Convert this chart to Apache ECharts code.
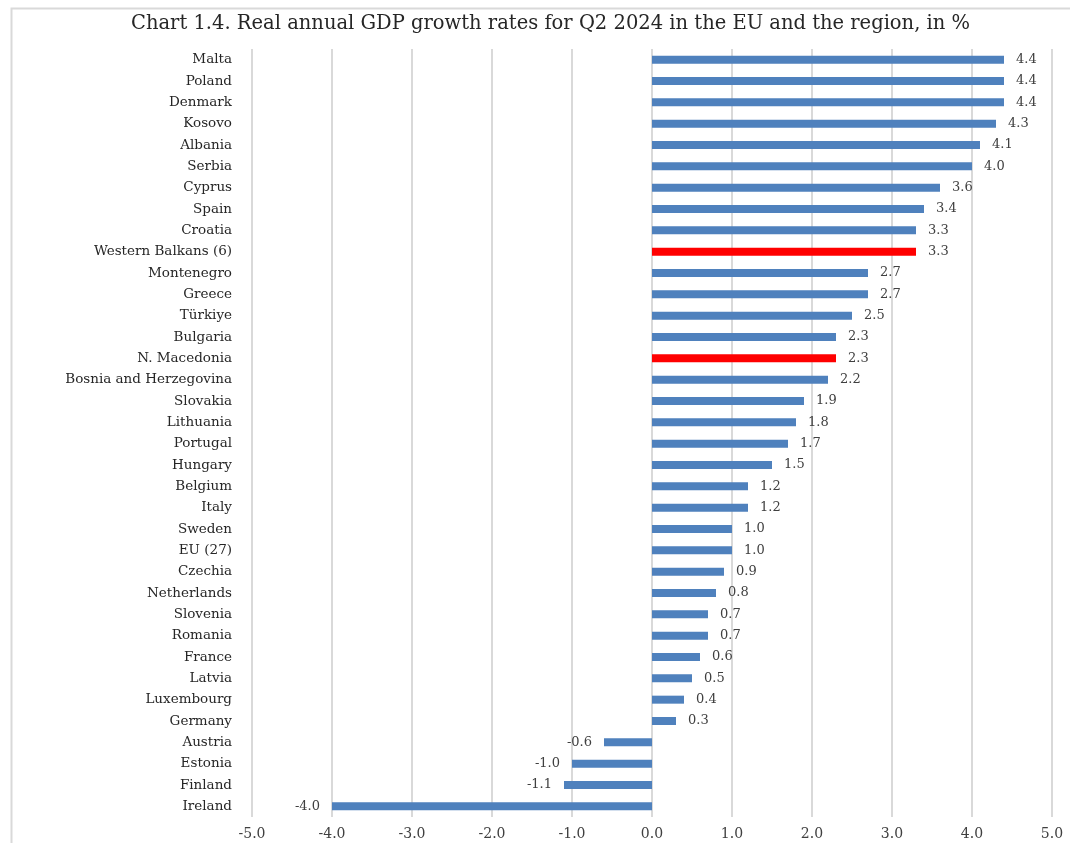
<!DOCTYPE html>
<html>
<head>
<meta charset="utf-8">
<script src="https://cdn.jsdelivr.net/npm/echarts@6/dist/echarts.min.js"></script>
<style>
  html, body { margin: 0; padding: 0; background: #fff; }
  #chart { width: 1070px; height: 843px; }
</style>
</head>
<body>
<div id="chart"></div>
<script>
// top to bottom, as in the original
const countries = [
  'Malta', 'Poland', 'Denmark', 'Kosovo', 'Albania', 'Serbia', 'Cyprus', 'Spain',
  'Croatia', 'Western Balkans (6)', 'Montenegro', 'Greece', 'Türkiye', 'Bulgaria',
  'N. Macedonia', 'Bosnia and Herzegovina', 'Slovakia', 'Lithuania', 'Portugal',
  'Hungary', 'Belgium', 'Italy', 'Sweden', 'EU (27)', 'Czechia', 'Netherlands',
  'Slovenia', 'Romania', 'France', 'Latvia', 'Luxembourg', 'Germany', 'Austria',
  'Estonia', 'Finland', 'Ireland'
]
const growth = [
  4.4, 4.4, 4.4, 4.3, 4.1, 4.0, 3.6, 3.4,
  3.3, 3.3, 2.7, 2.7, 2.5, 2.3,
  2.3, 2.2, 1.9, 1.8, 1.7,
  1.5, 1.2, 1.2, 1.0, 1.0, 0.9, 0.8,
  0.7, 0.7, 0.6, 0.5, 0.4, 0.3, -0.6,
  -1.0, -1.1, -4.0
]
const highlighted = ['Western Balkans (6)', 'N. Macedonia']

const font = "'DejaVu Serif', 'Liberation Serif', serif"
const chart = echarts.init(document.getElementById('chart'))

chart.setOption({
  animation: false,
  backgroundColor: '#fff',
  title: {
    text: 'Chart 1.4. Real annual GDP growth rates for Q2 2024 in the EU and the region, in %',
    left: 126,
    top: 9,
    textStyle: { fontFamily: font, fontSize: 19.5, fontWeight: 'normal', color: '#262626' }
  },
  graphic: [{
    type: 'rect',
    left: 9,
    top: 6,
    shape: { width: 1100, height: 900 },
    style: { fill: 'none', stroke: '#d9d9d9', lineWidth: 2 },
    silent: true
  }],
  grid: { left: 252, right: 18, top: 49, bottom: 26 },
  xAxis: {
    type: 'value',
    min: -5,
    max: 5,
    interval: 1,
    axisLine: { show: false },
    axisTick: { show: false },
    splitLine: { lineStyle: { color: '#d9d9d9', width: 2 } },
    axisLabel: {
      fontFamily: font,
      fontSize: 14,
      color: '#404040',
      margin: 10,
      formatter: (v) => v.toFixed(1)
    }
  },
  yAxis: {
    type: 'category',
    inverse: true,
    data: countries,
    axisLine: { show: false },
    axisTick: { show: false },
    axisLabel: { fontFamily: font, fontSize: 13.5, color: '#262626', margin: 20 }
  },
  series: [{
    type: 'bar',
    barWidth: 8,
    data: growth.map((v, i) => ({
      value: v,
      itemStyle: { color: highlighted.includes(countries[i]) ? '#ff0000' : '#4f81bd' },
      label: { position: v < 0 ? 'left' : 'right' }
    })),
    label: {
      show: true,
      distance: 12,
      fontFamily: font,
      fontSize: 13,
      color: '#404040',
      formatter: (p) => p.value.toFixed(1)
    }
  }]
})
</script>
</body>
</html>
